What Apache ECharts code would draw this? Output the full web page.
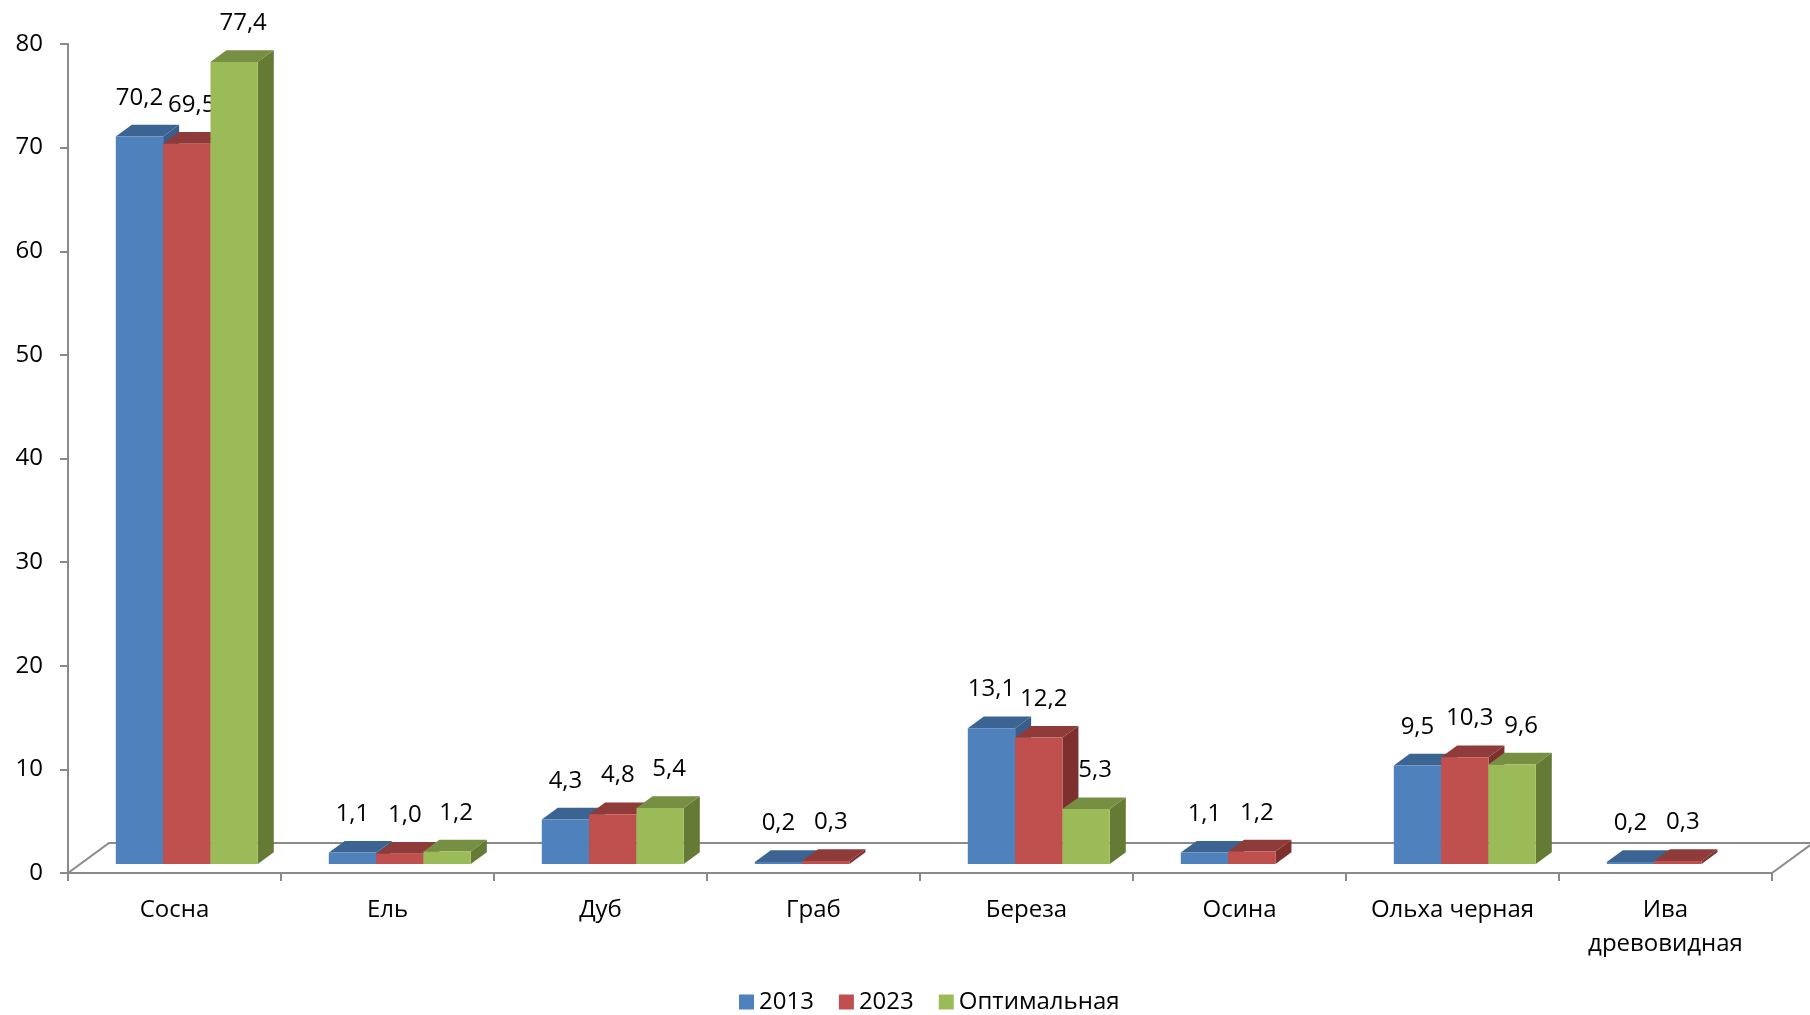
<!DOCTYPE html>
<html>
<head>
<meta charset="utf-8">
<script src="https://cdn.jsdelivr.net/npm/echarts@6/dist/echarts.min.js"></script>
<style>
  html, body { margin: 0; padding: 0; background: #ffffff; }
  #chart { width: 1810px; height: 1015px; }
</style>
</head>
<body>
<div id="chart"></div>
<script>
// Species composition of the stands, %
const categories = ['Сосна', 'Ель', 'Дуб', 'Граб', 'Береза', 'Осина', 'Ольха черная', 'Ива древовидная'];
const values2013 = [70.2, 1.1, 4.3, 0.2, 13.1, 1.1, 9.5, 0.2];
const values2023 = [69.5, 1.0, 4.8, 0.3, 12.2, 1.2, 10.3, 0.3];
const valuesOptimal = [77.4, 1.2, 5.4, null, 5.3, null, 9.6, null];
const seriesNames = ['2013', '2023', 'Оптимальная'];
const yTicks = [0, 10, 20, 30, 40, 50, 60, 70, 80];

const FONT = '"Open Sans", "Noto Sans", sans-serif';
const FONT_SIZE = 24;
const AXIS_COLOR = '#8a8a8a';

// pseudo-3D look: depth of the floor and of every bar, in pixels
const FLOOR_DX = 41, FLOOR_DY = -30;
const BAR_FRONT = 0.3;   // bar front face sits at this fraction of floor depth
const BAR_DEPTH = 0.39;  // bar depth as a fraction of floor depth
const LABEL_DX = [0, 5, 9]; // horizontal nudge of value labels per series

const palettes = [
  { front: '#4F81BD', top: '#3C6493', side: '#395E8B' },
  { front: '#C0504D', top: '#8F3B39', side: '#7E302E' },
  { front: '#9BBB59', top: '#768F43', side: '#657A35' }
];

function fmt(v) { return v.toFixed(1).replace('.', ','); }

function makeBarRenderer(seriesIdx) {
  const pal = palettes[seriesIdx];
  return function (params, api) {
    const v = api.value(1);
    if (v == null || isNaN(v)) return;
    const cat = api.value(0);
    const band = api.size([1, 0])[0];
    const barW = band * 2 / 9;
    const base = api.coord([cat, 0]);
    const topP = api.coord([cat, v]);
    const fx = FLOOR_DX * BAR_FRONT, fy = FLOOR_DY * BAR_FRONT;
    const ddx = FLOOR_DX * BAR_DEPTH, ddy = FLOOR_DY * BAR_DEPTH;
    const x0 = base[0] - 1.5 * barW + seriesIdx * barW + fx;
    const x1 = x0 + barW;
    const yb = base[1] + fy;
    const yt = topP[1] + fy;
    const children = [
      { type: 'polygon', shape: { points: [[x1, yt], [x1 + ddx, yt + ddy], [x1 + ddx, yb + ddy], [x1, yb]] },
        style: { fill: pal.side } },
      { type: 'polygon', shape: { points: [[x0, yt], [x1, yt], [x1 + ddx, yt + ddy], [x0 + ddx, yt + ddy]] },
        style: { fill: pal.top } },
      { type: 'rect', shape: { x: x0, y: yt, width: barW, height: yb - yt },
        style: { fill: pal.front } },
      { type: 'text', style: {
          text: fmt(v), x: (x0 + x1) / 2 + LABEL_DX[seriesIdx], y: yt + ddy - 27,
          align: 'center', verticalAlign: 'middle',
          font: FONT_SIZE + 'px ' + FONT, fill: '#000000' } }
    ];
    return { type: 'group', children: children };
  };
}

// floor outline behind the bars
function renderFloor(params, api) {
  const band = api.size([1, 0])[0];
  const first = api.coord([0, 0]);
  const last = api.coord([categories.length - 1, 0]);
  const xl = first[0] - band / 2, xr = last[0] + band / 2, y = first[1];
  return {
    type: 'polyline',
    shape: { points: [[xl, y], [xl + FLOOR_DX, y + FLOOR_DY], [xr + FLOOR_DX, y + FLOOR_DY], [xr, y]] },
    style: { stroke: AXIS_COLOR, lineWidth: 2, fill: null }
  };
}

const seriesData = [values2013, values2023, valuesOptimal];

const chart = echarts.init(document.getElementById('chart'));
chart.setOption({
  animation: false,
  backgroundColor: '#ffffff',
  textStyle: { fontFamily: FONT },
  grid: { left: 68, right: 38, top: 44, bottom: 142 },
  legend: {
    data: seriesNames,
    top: 985,
    left: 734,
    icon: 'rect',
    itemWidth: 15,
    itemHeight: 15,
    itemGap: 25,
    textStyle: { fontSize: FONT_SIZE, color: '#000000', fontFamily: FONT }
  },
  xAxis: {
    type: 'category',
    data: categories,
    boundaryGap: true,
    axisLine: { lineStyle: { color: AXIS_COLOR, width: 2 } },
    axisTick: { show: true, length: 8, alignWithLabel: false, lineStyle: { color: AXIS_COLOR, width: 2 } },
    axisLabel: {
      interval: 0, margin: 20, fontSize: FONT_SIZE, color: '#000000', fontFamily: FONT, lineHeight: 34,
      formatter: function (v) { return v.length > 14 ? v.replace(' ', '\n') : v; }
    }
  },
  yAxis: {
    type: 'value',
    min: yTicks[0],
    max: yTicks[yTicks.length - 1],
    interval: 10,
    splitLine: { show: false },
    axisLine: { show: true, lineStyle: { color: AXIS_COLOR, width: 2 } },
    axisTick: { show: true, length: 8, lineStyle: { color: AXIS_COLOR, width: 2 } },
    axisLabel: { margin: 25, fontSize: FONT_SIZE, color: '#000000', fontFamily: FONT }
  },
  series: [
    {
      type: 'custom', name: 'floor', clip: false, silent: true, z: 1,
      renderItem: renderFloor, data: [[0, 0]]
    }
  ].concat(seriesData.map(function (vals, i) {
    return {
      type: 'custom',
      name: seriesNames[i],
      clip: false,
      z: 2 + i,
      color: palettes[i].front,
      itemStyle: { color: palettes[i].front },
      renderItem: makeBarRenderer(i),
      data: vals.map(function (v, k) { return [k, v]; })
    };
  }))
});
</script>
</body>
</html>
